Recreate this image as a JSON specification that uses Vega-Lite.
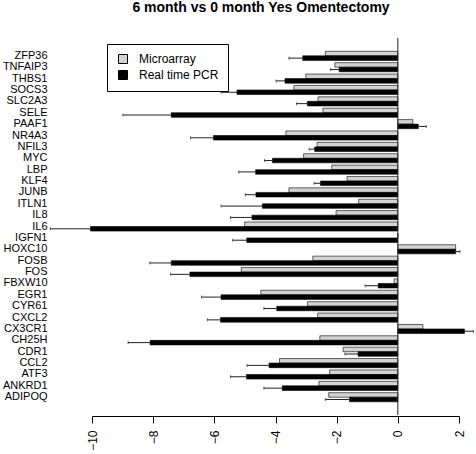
{
  "$schema": "https://vega.github.io/schema/vega-lite/v6.json",
  "autosize": {"type": "none"},
  "width": 367,
  "height": 377,
  "padding": {"left": 92, "top": 38, "right": 17, "bottom": 39},
  "background": "white",
  "config": {
    "view": {"stroke": null},
    "font": "Liberation Sans",
    "axis": {"labelFont": "Liberation Sans", "labelColor": "black", "grid": false}
  },
  "title": {
    "text": "6 month vs 0 month Yes Omentectomy",
    "font": "Liberation Sans",
    "fontSize": 14,
    "fontWeight": "bold",
    "color": "black",
    "anchor": "middle",
    "frame": "group",
    "dx": -14.5,
    "baseline": "alphabetic",
    "offset": 11.7
  },
  "datasets": {
    "expr": [
      {"gene": "ZFP36", "method": "Microarray", "value": -2.37, "err": null},
      {"gene": "ZFP36", "method": "Real time PCR", "value": -3.11, "err": -3.56},
      {"gene": "TNFAIP3", "method": "Microarray", "value": -2.06, "err": null},
      {"gene": "TNFAIP3", "method": "Real time PCR", "value": -1.92, "err": -2.2},
      {"gene": "THBS1", "method": "Microarray", "value": -3.01, "err": null},
      {"gene": "THBS1", "method": "Real time PCR", "value": -3.69, "err": -3.98},
      {"gene": "SOCS3", "method": "Microarray", "value": -3.4, "err": null},
      {"gene": "SOCS3", "method": "Real time PCR", "value": -5.26, "err": -5.78},
      {"gene": "SLC2A3", "method": "Microarray", "value": -2.61, "err": null},
      {"gene": "SLC2A3", "method": "Real time PCR", "value": -2.96, "err": -3.31},
      {"gene": "SELE", "method": "Microarray", "value": -2.45, "err": null},
      {"gene": "SELE", "method": "Real time PCR", "value": -7.41, "err": -8.99},
      {"gene": "PAAF1", "method": "Microarray", "value": 0.49, "err": null},
      {"gene": "PAAF1", "method": "Real time PCR", "value": 0.67, "err": 0.93},
      {"gene": "NR4A3", "method": "Microarray", "value": -3.66, "err": null},
      {"gene": "NR4A3", "method": "Real time PCR", "value": -6.03, "err": -6.78},
      {"gene": "NFIL3", "method": "Microarray", "value": -2.64, "err": null},
      {"gene": "NFIL3", "method": "Real time PCR", "value": -2.72, "err": -2.9},
      {"gene": "MYC", "method": "Microarray", "value": -3.08, "err": null},
      {"gene": "MYC", "method": "Real time PCR", "value": -4.1, "err": -4.36},
      {"gene": "LBP", "method": "Microarray", "value": -2.16, "err": null},
      {"gene": "LBP", "method": "Real time PCR", "value": -4.65, "err": -5.2},
      {"gene": "KLF4", "method": "Microarray", "value": -1.66, "err": null},
      {"gene": "KLF4", "method": "Real time PCR", "value": -2.53, "err": -2.74},
      {"gene": "JUNB", "method": "Microarray", "value": -3.56, "err": null},
      {"gene": "JUNB", "method": "Real time PCR", "value": -4.64, "err": -4.99},
      {"gene": "ITLN1", "method": "Microarray", "value": -1.28, "err": null},
      {"gene": "ITLN1", "method": "Real time PCR", "value": -4.43, "err": -5.78},
      {"gene": "IL8", "method": "Microarray", "value": -2.02, "err": null},
      {"gene": "IL8", "method": "Real time PCR", "value": -4.77, "err": -5.47},
      {"gene": "IL6", "method": "Microarray", "value": -5.01, "err": null},
      {"gene": "IL6", "method": "Real time PCR", "value": -10.05, "err": -11.36},
      {"gene": "IGFN1", "method": "Microarray", "value": 0, "err": null},
      {"gene": "IGFN1", "method": "Real time PCR", "value": -4.94, "err": -5.4},
      {"gene": "HOXC10", "method": "Microarray", "value": 1.89, "err": null},
      {"gene": "HOXC10", "method": "Real time PCR", "value": 1.89, "err": 2.03},
      {"gene": "FOSB", "method": "Microarray", "value": -2.78, "err": null},
      {"gene": "FOSB", "method": "Real time PCR", "value": -7.41, "err": -8.11},
      {"gene": "FOS", "method": "Microarray", "value": -5.12, "err": null},
      {"gene": "FOS", "method": "Real time PCR", "value": -6.8, "err": -7.43},
      {"gene": "FBXW10", "method": "Microarray", "value": -0.12, "err": null},
      {"gene": "FBXW10", "method": "Real time PCR", "value": -0.64, "err": -1.07},
      {"gene": "EGR1", "method": "Microarray", "value": -4.48, "err": null},
      {"gene": "EGR1", "method": "Real time PCR", "value": -5.78, "err": -6.42},
      {"gene": "CYR61", "method": "Microarray", "value": -2.95, "err": null},
      {"gene": "CYR61", "method": "Real time PCR", "value": -3.96, "err": -4.38},
      {"gene": "CXCL2", "method": "Microarray", "value": -2.62, "err": null},
      {"gene": "CXCL2", "method": "Real time PCR", "value": -5.8, "err": -6.23},
      {"gene": "CX3CR1", "method": "Microarray", "value": 0.82, "err": null},
      {"gene": "CX3CR1", "method": "Real time PCR", "value": 2.18, "err": 2.47},
      {"gene": "CH25H", "method": "Microarray", "value": -2.55, "err": null},
      {"gene": "CH25H", "method": "Real time PCR", "value": -8.1, "err": -8.82},
      {"gene": "CDR1", "method": "Microarray", "value": -1.79, "err": null},
      {"gene": "CDR1", "method": "Real time PCR", "value": -1.3, "err": -1.73},
      {"gene": "CCL2", "method": "Microarray", "value": -3.87, "err": null},
      {"gene": "CCL2", "method": "Real time PCR", "value": -4.21, "err": -4.93},
      {"gene": "ATF3", "method": "Microarray", "value": -2.23, "err": null},
      {"gene": "ATF3", "method": "Real time PCR", "value": -4.95, "err": -5.47},
      {"gene": "ANKRD1", "method": "Microarray", "value": -2.58, "err": null},
      {"gene": "ANKRD1", "method": "Real time PCR", "value": -3.78, "err": -4.38},
      {"gene": "ADIPOQ", "method": "Microarray", "value": -2.26, "err": null},
      {"gene": "ADIPOQ", "method": "Real time PCR", "value": -1.58, "err": -2.37}
    ],
    "zero": [{"x0": 0}]
  },
  "resolve": {"scale": {"x": "shared", "y": "shared"}},
  "layer": [
    {
      "data": {"name": "expr"},
      "mark": {"type": "bar", "stroke": "black", "strokeWidth": 0.6},
      "encoding": {
        "x": {
          "field": "value",
          "type": "quantitative",
          "scale": {"domain": [-10, 2], "nice": false, "zero": false},
          "axis": {
            "title": null,
            "values": [-10, -8, -6, -4, -2, 0, 2],
            "labelAngle": -90,
            "labelAlign": "right",
            "labelBaseline": "middle",
            "labelFontSize": 12,
            "labelPadding": 7,
            "tickSize": 7,
            "tickColor": "black",
            "domainColor": "black",
            "tickWidth": 1,
            "domainWidth": 1,
            "offset": 1
          }
        },
        "y": {
          "field": "gene",
          "type": "nominal",
          "sort": null,
          "scale": {
            "domain": ["ZFP36", "TNFAIP3", "THBS1", "SOCS3", "SLC2A3", "SELE", "PAAF1", "NR4A3", "NFIL3", "MYC", "LBP", "KLF4", "JUNB", "ITLN1", "IL8", "IL6", "IGFN1", "HOXC10", "FOSB", "FOS", "FBXW10", "EGR1", "CYR61", "CXCL2", "CX3CR1", "CH25H", "CDR1", "CCL2", "ATF3", "ANKRD1", "ADIPOQ"],
            "range": [13.3, 363.8],
            "paddingInner": 0.2,
            "paddingOuter": 0
          },
          "axis": {
            "title": null,
            "domain": false,
            "ticks": false,
            "labelFontSize": 11,
            "labelPadding": 45,
            "labelBaseline": "middle"
          }
        },
        "yOffset": {
          "field": "method",
          "type": "nominal",
          "scale": {"domain": ["Microarray", "Real time PCR"], "paddingInner": 0, "paddingOuter": 0}
        },
        "fill": {
          "field": "method",
          "type": "nominal",
          "scale": {"domain": ["Microarray", "Real time PCR"], "range": ["#d3d3d3", "#000000"]},
          "legend": {
            "title": null,
            "orient": "none",
            "legendX": 15,
            "legendY": 6,
            "direction": "vertical",
            "strokeColor": "black",
            "fillColor": "white",
            "padding": 9,
            "symbolType": "square",
            "symbolSize": 81,
            "symbolStrokeColor": "black",
            "symbolStrokeWidth": 1,
            "symbolOffset": 1,
            "labelFont": "Liberation Sans",
            "labelFontSize": 12,
            "labelColor": "black",
            "labelOffset": 10,
            "rowPadding": 2
          }
        }
      }
    },
    {
      "data": {"name": "expr"},
      "transform": [{"filter": "datum.err != null"}],
      "mark": {"type": "rule", "color": "#222222", "strokeWidth": 1},
      "encoding": {
        "x": {"field": "value", "type": "quantitative"},
        "x2": {"field": "err"},
        "y": {"field": "gene", "type": "nominal", "sort": null},
        "yOffset": {"field": "method", "type": "nominal"}
      }
    },
    {
      "data": {"name": "expr"},
      "transform": [{"filter": "datum.err != null"}],
      "mark": {"type": "tick", "color": "#222222", "thickness": 1, "size": 3, "orient": "vertical"},
      "encoding": {
        "x": {"field": "err", "type": "quantitative"},
        "y": {"field": "gene", "type": "nominal", "sort": null},
        "yOffset": {"field": "method", "type": "nominal"}
      }
    },
    {
      "data": {"name": "zero"},
      "mark": {"type": "rule", "color": "#222222", "strokeWidth": 1},
      "encoding": {
        "x": {"field": "x0", "type": "quantitative"}
      }
    }
  ]
}
